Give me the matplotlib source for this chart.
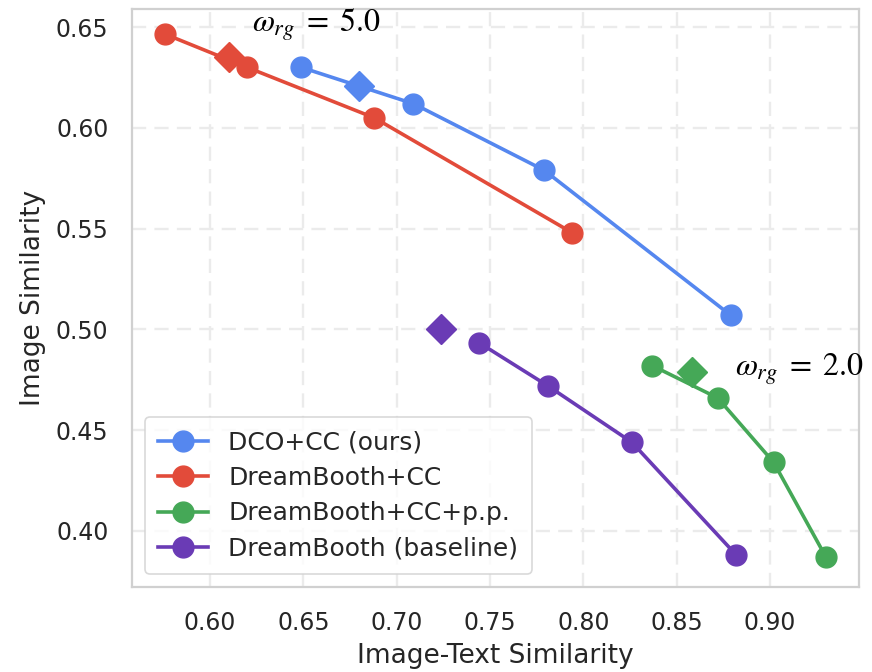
import matplotlib
matplotlib.use("Agg")
import matplotlib.pyplot as plt

plt.rcParams["font.family"] = ["DejaVu Sans"]

# image-text similarity (x) vs image similarity (y)
dco_x = [0.649, 0.709, 0.779, 0.879]
dco_y = [0.630, 0.612, 0.579, 0.507]
dco_d = (0.680, 0.621)

dbcc_x = [0.576, 0.620, 0.688, 0.794]
dbcc_y = [0.6465, 0.630, 0.605, 0.548]
dbcc_d = (0.610, 0.635)

pp_x = [0.837, 0.872, 0.902, 0.930]
pp_y = [0.482, 0.466, 0.434, 0.387]
pp_d = (0.858, 0.479)

base_x = [0.744, 0.781, 0.826, 0.882]
base_y = [0.4935, 0.472, 0.444, 0.388]
base_d = (0.724, 0.500)

labels = ["DCO+CC (ours)", "DreamBooth+CC", "DreamBooth+CC+p.p.", "DreamBooth (baseline)"]
colors = ["#5587EF", "#E24B3A", "#45A857", "#6A3BB5"]

fig = plt.figure(figsize=(8.72, 6.72), dpi=100)
ax = fig.add_axes([0.1514, 0.1265, 0.8337, 0.8601])

series = [(dco_x, dco_y, dco_d), (dbcc_x, dbcc_y, dbcc_d),
          (pp_x, pp_y, pp_d), (base_x, base_y, base_d)]
for (xs, ys, d), lab, c in zip(series, labels, colors):
    ax.plot([d[0]], [d[1]], marker="D", ms=15, color=c, ls="none", zorder=3)
    ax.plot(xs, ys, marker="o", ms=15, lw=2.6, color=c, label=lab, zorder=4)

ax.text(0.6225, 0.6475, r"$\omega_{rg}\;=\;5.0$", fontsize=23, math_fontfamily="stix",
        va="baseline", ha="left", zorder=5)
ax.text(0.8813, 0.4772, r"$\omega_{rg}\;=\;2.0$", fontsize=23, math_fontfamily="stix",
        va="baseline", ha="left", zorder=5)

ax.set_xlim(0.5582, 0.9477)
ax.set_ylim(0.3722, 0.659)
ax.set_xticks([0.60, 0.65, 0.70, 0.75, 0.80, 0.85, 0.90])
ax.set_yticks([0.40, 0.45, 0.50, 0.55, 0.60, 0.65])
ax.set_xticklabels(["0.60", "0.65", "0.70", "0.75", "0.80", "0.85", "0.90"])
ax.set_yticklabels(["0.40", "0.45", "0.50", "0.55", "0.60", "0.65"])

ax.grid(True, color="#EBEBEB", lw=1.7, ls=(0, (6, 3.5)), zorder=0)
ax.set_axisbelow(True)
for s in ax.spines.values():
    s.set_color("#D0D0D0")
    s.set_linewidth(1.6)
ax.tick_params(length=0, pad=17, labelsize=17, labelcolor="#262626")

ax.set_xlabel("Image-Text Similarity", fontsize=19, color="#262626", labelpad=6)
ax.set_ylabel("Image Similarity", fontsize=19, color="#262626", labelpad=7)

leg = ax.legend(loc="lower left", fontsize=18, labelspacing=0.45, borderpad=0.55,
                frameon=True, fancybox=True, borderaxespad=0.5)
leg.get_frame().set_edgecolor("#D0D0D0")
leg.get_frame().set_linewidth(1.2)
for t in leg.get_texts():
    t.set_color("#262626")

fig.savefig("out.png", dpi=100)
